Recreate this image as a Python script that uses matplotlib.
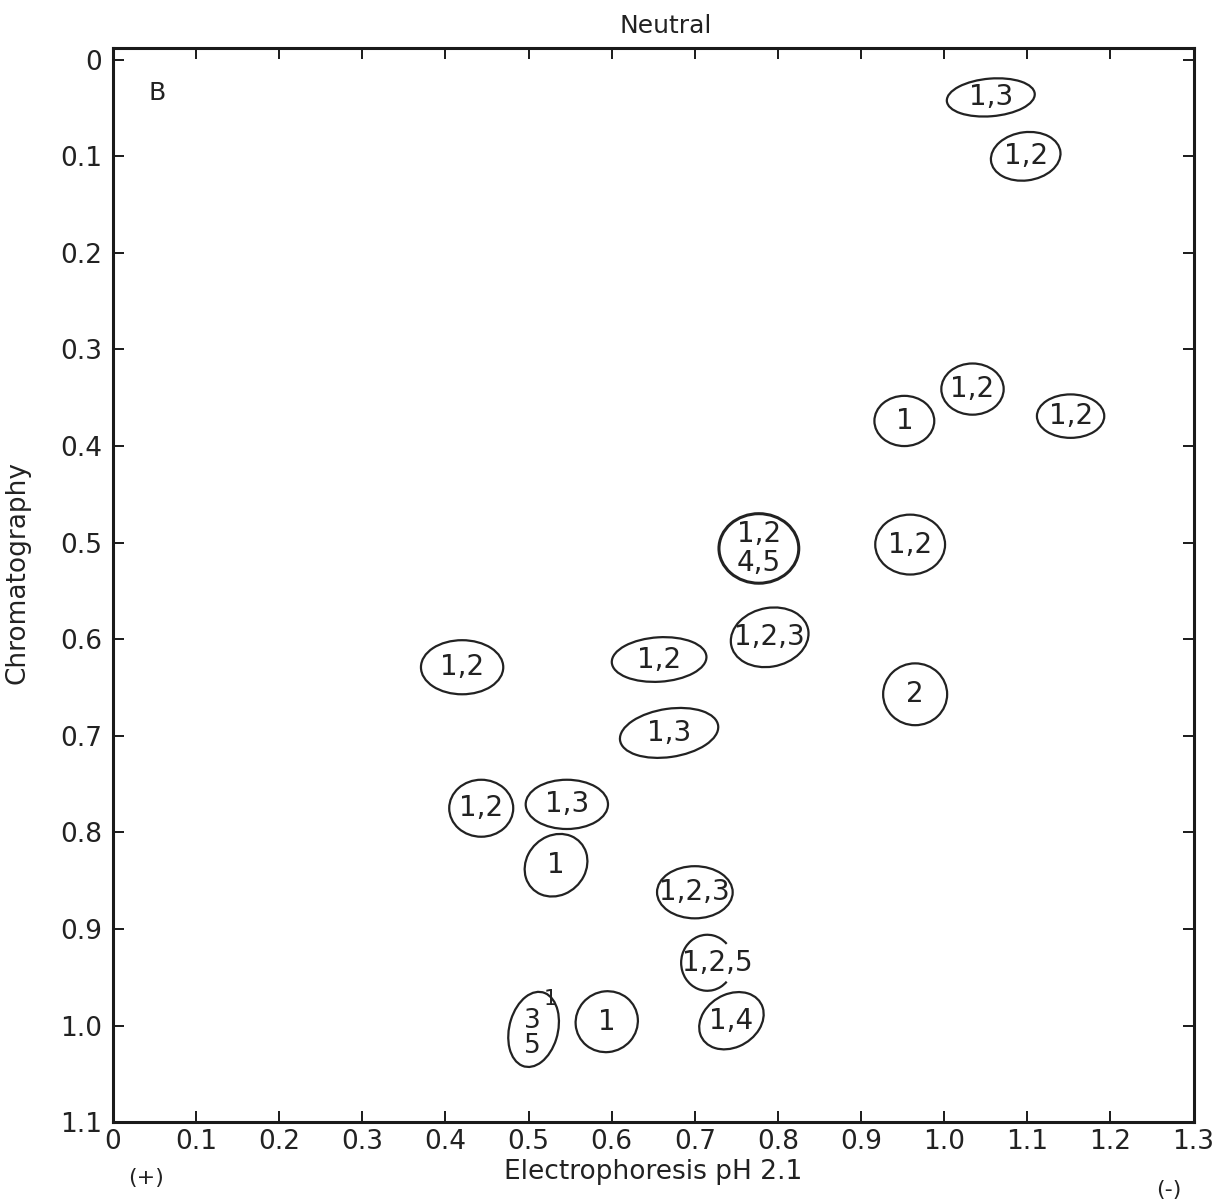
import matplotlib
matplotlib.use("Agg")
import matplotlib.pyplot as plt
from matplotlib.patches import Ellipse, Arc
import numpy as np

# spot positions (electrophoresis, chromatography)
spot_x = [1.056, 1.098, 0.952, 1.034, 1.152, 0.959, 0.965, 0.777, 0.790, 0.420,
          0.657, 0.669, 0.443, 0.546, 0.533, 0.700, 0.727, 0.744, 0.594, 0.506]
spot_y = [0.039, 0.100, 0.374, 0.341, 0.369, 0.502, 0.657, 0.506, 0.598, 0.629,
          0.621, 0.697, 0.775, 0.771, 0.834, 0.862, 0.935, 0.995, 0.996, 1.004]
spot_labels = ["1,3", "1,2", "1", "1,2", "1,2", "1,2", "2", "1,2\n4,5", "1,2,3", "1,2",
               "1,2", "1,3", "1,2", "1,3", "1", "1,2,3", "1,2,5", "1,4", "1", "3\n5"]
# spot extent (data units) and tilt
spot_w = [0.106, 0.084, 0.072, 0.075, 0.081, 0.084, 0.077, 0.096, 0.094, 0.099,
          0.114, 0.119, 0.077, 0.099, 0.077, 0.091, 0.063, 0.080, 0.075, 0.058]
spot_h = [0.039, 0.050, 0.052, 0.053, 0.045, 0.062, 0.064, 0.072, 0.061, 0.056,
          0.046, 0.050, 0.059, 0.051, 0.063, 0.054, 0.058, 0.056, 0.063, 0.080]
spot_angle = [-4, -6, 0, 0, 0, 0, 0, 0, -8, 0,
              -3, -7, 0, 0, -20, 0, 0, -20, -5, 20]

x_ticks = np.round(np.arange(0, 1.31, 0.1), 1)
x_ticklabels = ["0", "0.1", "0.2", "0.3", "0.4", "0.5", "0.6", "0.7", "0.8", "0.9",
                "1.0", "1.1", "1.2", "1.3"]
y_ticks = np.round(np.arange(0, 1.11, 0.1), 1)
y_ticklabels = ["0", "0.1", "0.2", "0.3", "0.4", "0.5", "0.6", "0.7", "0.8", "0.9",
                "1.0", "1.1"]

plt.rcParams['font.family'] = ['DejaVu Sans']
fig = plt.figure(figsize=(12.28, 12.04), dpi=100)
ax = fig.add_axes([0.092, 0.068, 0.880, 0.892])

ax.set_xlim(0, 1.3)
ax.set_ylim(1.1, -0.012)

ink = '#222222'
for i in range(len(spot_x)):
    if spot_labels[i] == "1,2,5":
        # spot outline left open on the right
        ax.add_patch(Arc((spot_x[i] - 0.012, spot_y[i]), spot_w[i], spot_h[i],
                         theta1=40, theta2=320, lw=1.6, color=ink))
    else:
        lw = 2.2 if spot_labels[i] == "1,2\n4,5" else 1.6
        ax.add_patch(Ellipse((spot_x[i], spot_y[i]), spot_w[i], spot_h[i],
                             angle=spot_angle[i], fill=False, lw=lw, edgecolor=ink))
    if spot_labels[i] == "3\n5":
        ax.text(spot_x[i] - 0.002, spot_y[i] + 0.004, "3\n5", ha='center', va='center',
                fontsize=19, linespacing=0.95, color=ink)
        ax.text(spot_x[i] + 0.020, spot_y[i] - 0.032, "1", ha='center', va='center',
                fontsize=15, color=ink)
    else:
        ax.text(spot_x[i], spot_y[i], spot_labels[i], ha='center', va='center',
                fontsize=20, linespacing=1.05, color=ink)

ax.text(0.053, 0.034, "B", ha='center', va='center', fontsize=18, color=ink)

# frame and ticks
for s in ax.spines.values():
    s.set_linewidth(2.2)
    s.set_color('#1a1a1a')

ax.set_xticks(x_ticks)
ax.set_xticklabels(x_ticklabels, fontsize=19, color=ink)
ax.set_yticks(y_ticks)
ax.set_yticklabels(y_ticklabels, fontsize=19, color=ink)
ax.tick_params(axis='both', direction='in', length=8, width=1.4, color='#1a1a1a',
               top=True, right=True, labeltop=False, labelright=False)
ax.tick_params(axis='x', pad=5)
ax.tick_params(axis='y', pad=8)

ax.set_xlabel("Electrophoresis pH 2.1", fontsize=19, color=ink, labelpad=3)
ax.set_ylabel("Chromatography", fontsize=19, color=ink)
ax.yaxis.set_label_coords(-0.076, 0.512)

ax.text(0.665, -0.035, "Neutral", ha='center', va='center', fontsize=18, color=ink)
ax.text(0.04, 1.158, "(+)", ha='center', va='center', fontsize=16, color=ink)
ax.text(1.27, 1.17, "(-)", ha='center', va='center', fontsize=16, color=ink)

plt.savefig("out.png", dpi=100, facecolor='white')
